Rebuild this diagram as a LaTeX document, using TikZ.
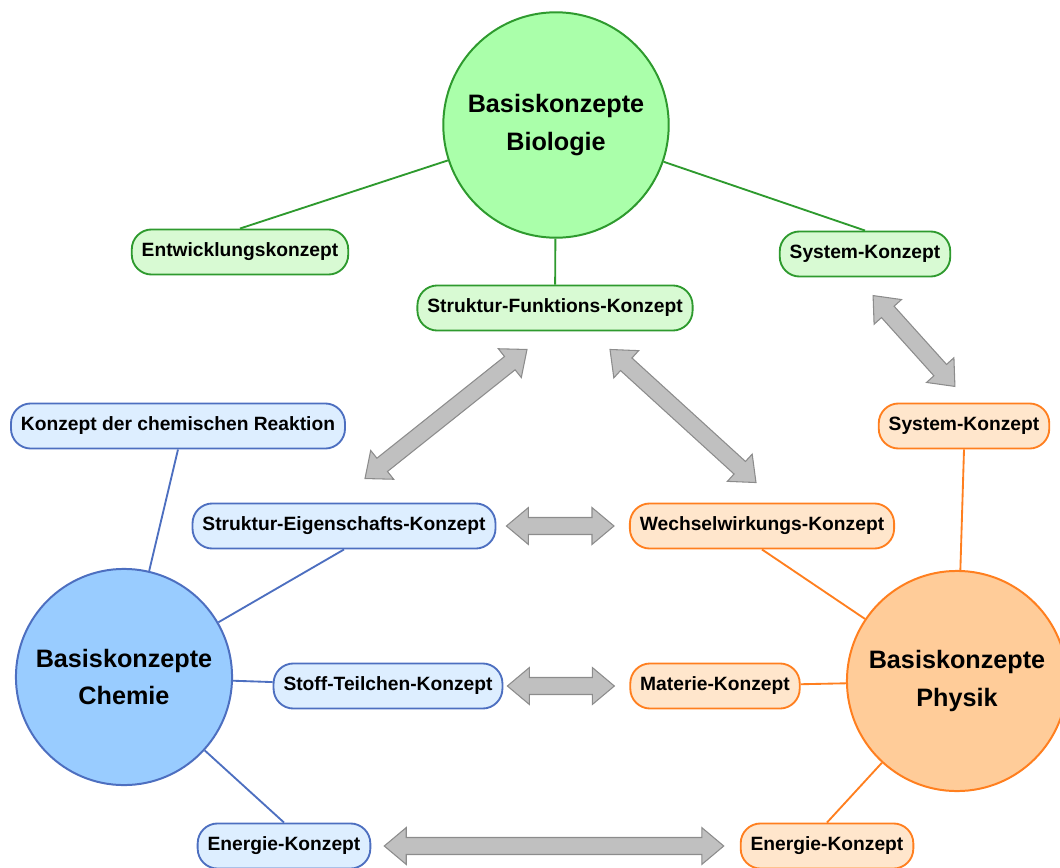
\documentclass[tikz,border=0pt]{standalone}
\usepackage{fontspec}
\setmainfont{Liberation Sans}
\usetikzlibrary{positioning,calc,shapes.arrows}
\definecolor{BioLine}{HTML}{2E9A2E}
\definecolor{BioFill}{HTML}{AAFFAA}
\definecolor{BioLight}{HTML}{D8FAD3}
\definecolor{ChemLine}{HTML}{4D6FC0}
\definecolor{ChemFill}{HTML}{99CCFF}
\definecolor{ChemLight}{HTML}{DDEEFF}
\definecolor{PhysLine}{HTML}{FF7F1F}
\definecolor{PhysFill}{HTML}{FFCC99}
\definecolor{PhysLight}{HTML}{FFE6CC}
\definecolor{ArrowGray}{HTML}{C0C0C0}
\definecolor{ArrowEdge}{HTML}{8C8C8C}
\newcommand{\twoway}[2]{%
  \path let \p1=(#1), \p2=(#2), \n1={atan2(\y2-\y1,\x2-\x1)}, \n2={veclen(\x2-\x1,\y2-\y1)} in
    node[fatarrow, rotate=\n1, minimum height=\n2] at ($(#1)!0.5!(#2)$) {};}

\begin{document}
\begin{tikzpicture}[x=0.0265cm,y=-0.0265cm,
  hub/.style={circle, line width=1.5pt, align=center, inner sep=0pt,
    font=\bfseries\fontsize{19}{28}\selectfont},
  concept/.style={rectangle, rounded corners=15pt, line width=1.4pt, minimum height=34pt,
    inner xsep=7.5pt, font=\bfseries\fontsize{14.5}{16}\selectfont},
  bio/.style={concept, draw=BioLine, fill=BioLight},
  chem/.style={concept, draw=ChemLine, fill=ChemLight},
  phys/.style={concept, draw=PhysLine, fill=PhysLight},
  biolink/.style={BioLine, line width=1.4pt},
  chemlink/.style={ChemLine, line width=1.4pt},
  physlink/.style={PhysLine, line width=1.4pt},
  fatarrow/.style={double arrow, draw=ArrowEdge, fill=ArrowGray, line width=0.8pt,
    inner xsep=0pt, inner ysep=6pt, double arrow head extend=7.5pt,
    double arrow tip angle=80}]
\useasboundingbox (0,0) rectangle (1060,868);

% hubs
\node[hub, draw=BioLine, fill=BioFill, minimum size=170pt] (biology) at (556,125) {Basiskonzepte\\Biologie};
\node[hub, draw=ChemLine, fill=ChemFill, minimum size=163pt] (chemistry) at (124,677) {Basiskonzepte\\Chemie};
\node[hub, draw=PhysLine, fill=PhysFill, minimum size=166pt] (physics) at (957,681) {Basiskonzepte\\Physik};

% biology concepts
\node[bio] (entw) at (240,252) {Entwicklungskonzept};
\node[bio] (sysb) at (865,254) {System-Konzept};
\node[bio] (sfk) at (555,308) {Struktur-Funktions-Konzept};

% chemistry concepts
\node[chem] (reak) at (178,426) {Konzept der chemischen Reaktion};
\node[chem] (sek) at (344,526) {Struktur-Eigenschafts-Konzept};
\node[chem] (stk) at (388,686) {Stoff-Teilchen-Konzept};
\node[chem] (enc) at (284,846) {Energie-Konzept};

% physics concepts
\node[phys] (sysp) at (964,426) {System-Konzept};
\node[phys] (wwk) at (762,526) {Wechselwirkungs-Konzept};
\node[phys] (mak) at (715,686) {Materie-Konzept};
\node[phys] (enp) at (827,846) {Energie-Konzept};

% links
\draw[biolink] (biology) -- (entw.north);
\draw[biolink] (biology) -- (sysb.north);
\draw[biolink] (biology) -- (sfk);
\draw[chemlink] (chemistry) -- (reak.south);
\draw[chemlink] (chemistry) -- (sek.south);
\draw[chemlink] (chemistry) -- (stk);
\draw[chemlink] (chemistry) -- (enc.north);
\draw[physlink] (physics) -- (sysp.south);
\draw[physlink] (physics) -- (wwk.south);
\draw[physlink] (physics) -- (mak);
\draw[physlink] (physics) -- (enp.north);

% correspondences
\coordinate (a1) at ($(sfk.south)+(-28,18)$);
\coordinate (a2) at ($(sek.north)+(21,-24)$);
\coordinate (b1) at ($(sfk.south)+(55,18)$);
\coordinate (b2) at ($(wwk.north)+(-6,-20)$);
\coordinate (c1) at ($(sysb.south)+(8,18)$);
\coordinate (c2) at ($(sysp.north)+(-9,-16)$);
\coordinate (d1) at ($(sek.east)+(10,0)$);
\coordinate (d2) at ($(wwk.west)+(-15,0)$);
\coordinate (e1) at ($(stk.east)+(4,0)$);
\coordinate (e2) at ($(mak.west)+(-15,0)$);
\coordinate (f1) at ($(enc.east)+(13,0)$);
\coordinate (f2) at ($(enp.west)+(-16,0)$);
\twoway{a1}{a2}
\twoway{b1}{b2}
\twoway{c1}{c2}
\twoway{d1}{d2}
\twoway{e1}{e2}
\twoway{f1}{f2}
\end{tikzpicture}
\end{document}
